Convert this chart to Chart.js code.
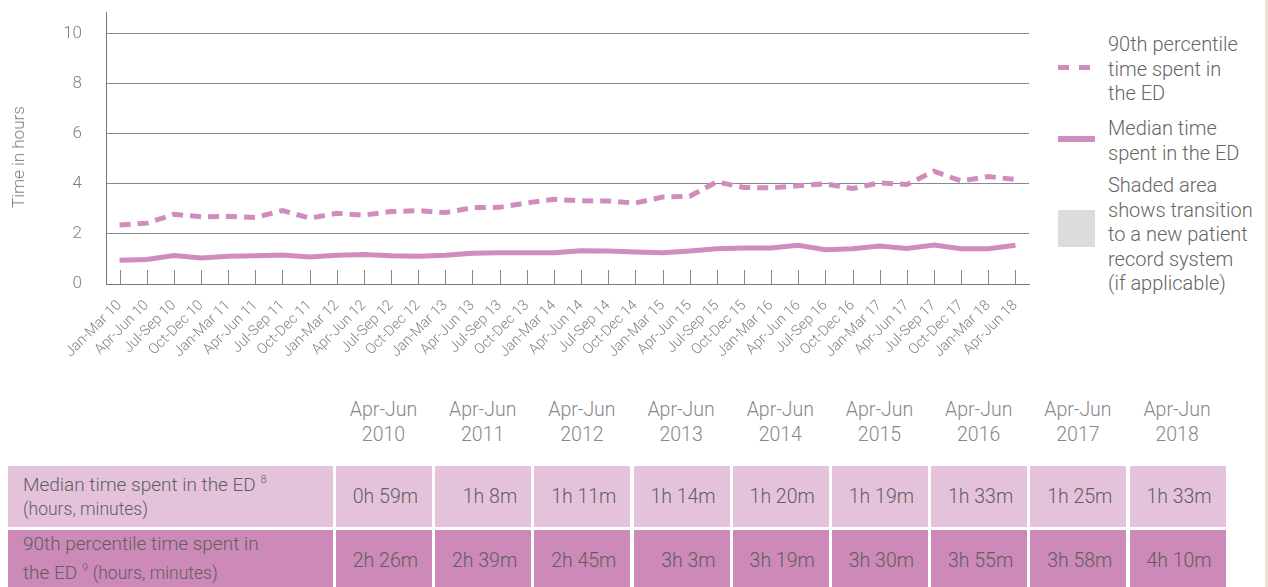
<!DOCTYPE html>
<html><head><meta charset="utf-8">
<script src="https://cdn.jsdelivr.net/npm/chart.js@4/dist/chart.umd.min.js"></script>
<style>
html,body{margin:0;padding:0;background:#fff;width:1268px;height:587px;overflow:hidden;font-family:Roboto,"Liberation Sans",sans-serif;font-weight:300;}
#c{position:absolute;left:0;top:-22px;}
.leg{position:absolute;left:1108px;color:#666;font-size:20px;line-height:24.6px;white-space:nowrap;}
.sw{position:absolute;}
#ytitle{position:absolute;left:18px;top:157px;transform:translate(-50%,-50%) rotate(-90deg);color:#808080;font-size:17px;white-space:nowrap;}
#strip{position:absolute;left:1265px;top:0;width:3px;height:587px;background:#ece3d8;}
.hdr{position:absolute;top:397px;width:99px;text-align:center;color:#888;font-size:19.5px;line-height:25px;}
.cell{position:absolute;box-sizing:border-box;color:#5f5f5f;font-size:19.5px;display:flex;align-items:center;justify-content:flex-end;padding-right:14px;}
.lab{position:absolute;box-sizing:border-box;color:#5f5f5f;font-size:19px;padding-left:15px;padding-bottom:4px;display:flex;flex-direction:column;justify-content:center;line-height:24.5px;}
.lab small{font-size:17.5px;}
sup{font-size:11px;vertical-align:8px;}
</style></head>
<body>
<canvas id="c" width="1045" height="402"></canvas>
<div id="ytitle">Time in hours</div>
<div id="legend"></div>
<div id="table"></div>
<div id="strip"></div>
<script>
const categories = ["Jan-Mar 10","Apr-Jun 10","Jul-Sep 10","Oct-Dec 10","Jan-Mar 11","Apr-Jun 11","Jul-Sep 11","Oct-Dec 11","Jan-Mar 12","Apr-Jun 12","Jul-Sep 12","Oct-Dec 12","Jan-Mar 13","Apr-Jun 13","Jul-Sep 13","Oct-Dec 13","Jan-Mar 14","Apr-Jun 14","Jul-Sep 14","Oct-Dec 14","Jan-Mar 15","Apr-Jun 15","Jul-Sep 15","Oct-Dec 15","Jan-Mar 16","Apr-Jun 16","Jul-Sep 16","Oct-Dec 16","Jan-Mar 17","Apr-Jun 17","Jul-Sep 17","Oct-Dec 17","Jan-Mar 18","Apr-Jun 18"];
const p90Values = [2.36,2.43,2.78,2.68,2.70,2.65,2.93,2.63,2.82,2.75,2.89,2.93,2.85,3.05,3.06,3.24,3.38,3.32,3.31,3.23,3.47,3.50,4.08,3.85,3.84,3.92,4.00,3.81,4.04,3.97,4.50,4.11,4.29,4.17];
const medianValues = [0.95,0.98,1.14,1.04,1.11,1.13,1.16,1.08,1.15,1.18,1.13,1.11,1.15,1.23,1.25,1.25,1.25,1.33,1.32,1.28,1.25,1.32,1.41,1.44,1.44,1.55,1.37,1.41,1.52,1.42,1.56,1.41,1.41,1.55];
const yTicks = [0,2,4,6,8,10];
const tableYears = ["2010","2011","2012","2013","2014","2015","2016","2017","2018"];
const tableMedian = ["0h 59m","1h 8m","1h 11m","1h 14m","1h 20m","1h 19m","1h 33m","1h 25m","1h 33m"];
const tableP90 = ["2h 26m","2h 39m","2h 45m","3h 3m","3h 19m","3h 30m","3h 55m","3h 58m","4h 10m"];

const LINE = '#d08cbd';
Chart.defaults.font.family = 'Roboto, "Liberation Sans", sans-serif';
Chart.defaults.font.weight = '300';

const innerTicks = {
  id:'innerTicks',
  afterDraw(chart){
    const x = chart.scales.x, ctx = chart.ctx;
    const base = chart.chartArea.bottom;
    ctx.save();
    ctx.strokeStyle = '#888'; ctx.lineWidth = 1;
    for (let i = 0; i < categories.length; i++) {
      const px = Math.round(x.getPixelForTick(i)) + 0.5;
      ctx.beginPath(); ctx.moveTo(px, base); ctx.lineTo(px, base - 14); ctx.stroke();
    }
    ctx.restore();
  }
};

new Chart(document.getElementById('c'), {
  type: 'line',
  data: {
    labels: categories,
    datasets: [
      {label:'90th percentile time spent in the ED', data:p90Values, borderColor:LINE, backgroundColor:LINE, borderWidth:5, borderDash:[11,7], pointRadius:0, tension:0, borderCapStyle:'butt'},
      {label:'Median time spent in the ED', data:medianValues, borderColor:LINE, backgroundColor:LINE, borderWidth:5, pointRadius:0, tension:0}
    ]
  },
  plugins:[innerTicks],
  options: {
    responsive:false, animation:false,
    layout:{padding:{left:0,top:10,right:16,bottom:0}},
    plugins:{legend:{display:false}, tooltip:{enabled:false}},
    scales:{
      x:{
        offset:true,
        grid:{display:false},
        border:{display:true,color:'#777',width:1},
        ticks:{autoSkip:false, minRotation:45, maxRotation:45, padding:5, color:'#808080', font:{size:14.5}},
        afterFit:(s)=>{s.height=96;}
      },
      y:{
        min:0, max:10.85,
        afterBuildTicks:(s)=>{s.ticks = yTicks.map(v=>({value:v}));},
        grid:{color:'#8a8a8a', drawTicks:false, lineWidth:1},
        border:{display:true,color:'#777',width:1},
        ticks:{padding:24, color:'#808080', font:{size:17}},
        afterFit:(s)=>{s.width=106;}
      }
    }
  }
});

// Legend (HTML)
const legend = document.getElementById('legend');
legend.innerHTML = `
<div class="sw" style="left:1058px;top:65px;width:11px;height:5px;background:${LINE}"></div>
<div class="sw" style="left:1079px;top:65px;width:11px;height:5px;background:${LINE}"></div>
<div class="leg" style="top:32px">90th percentile<br>time spent in<br>the ED</div>
<div class="sw" style="left:1058px;top:136px;width:37px;height:6px;background:${LINE}"></div>
<div class="leg" style="top:116px">Median time<br>spent in the ED</div>
<div class="sw" style="left:1058px;top:210px;width:37px;height:37px;background:#dcdcdc"></div>
<div class="leg" style="top:173px">Shaded area<br>shows transition<br>to a new patient<br>record system<br>(if applicable)</div>`;

// Table (HTML)
const tbl = document.getElementById('table');
let html = '';
const colLeft = i => 336 + i*99.2;
tableYears.forEach((y,i)=>{
  html += `<div class="hdr" style="left:${colLeft(i)-2}px">Apr-Jun<br>${y}</div>`;
  html += `<div class="cell" style="left:${colLeft(i)}px;top:466px;width:96px;height:61px;background:#e5c2dc">${tableMedian[i]}</div>`;
  html += `<div class="cell" style="left:${colLeft(i)}px;top:530px;width:96px;height:61px;background:#cd89b8">${tableP90[i]}</div>`;
});
html += `<div class="lab" style="left:8px;top:466px;width:325px;height:61px;background:#e5c2dc"><div>Median time spent in the ED <sup>8</sup></div><div><small>(hours, minutes)</small></div></div>`;
html += `<div class="lab" style="left:8px;top:530px;width:325px;height:61px;background:#cd89b8"><div>90th percentile time spent in</div><div>the ED <sup>9</sup> <small>(hours, minutes)</small></div></div>`;
tbl.innerHTML = html;
</script>
</body></html>
